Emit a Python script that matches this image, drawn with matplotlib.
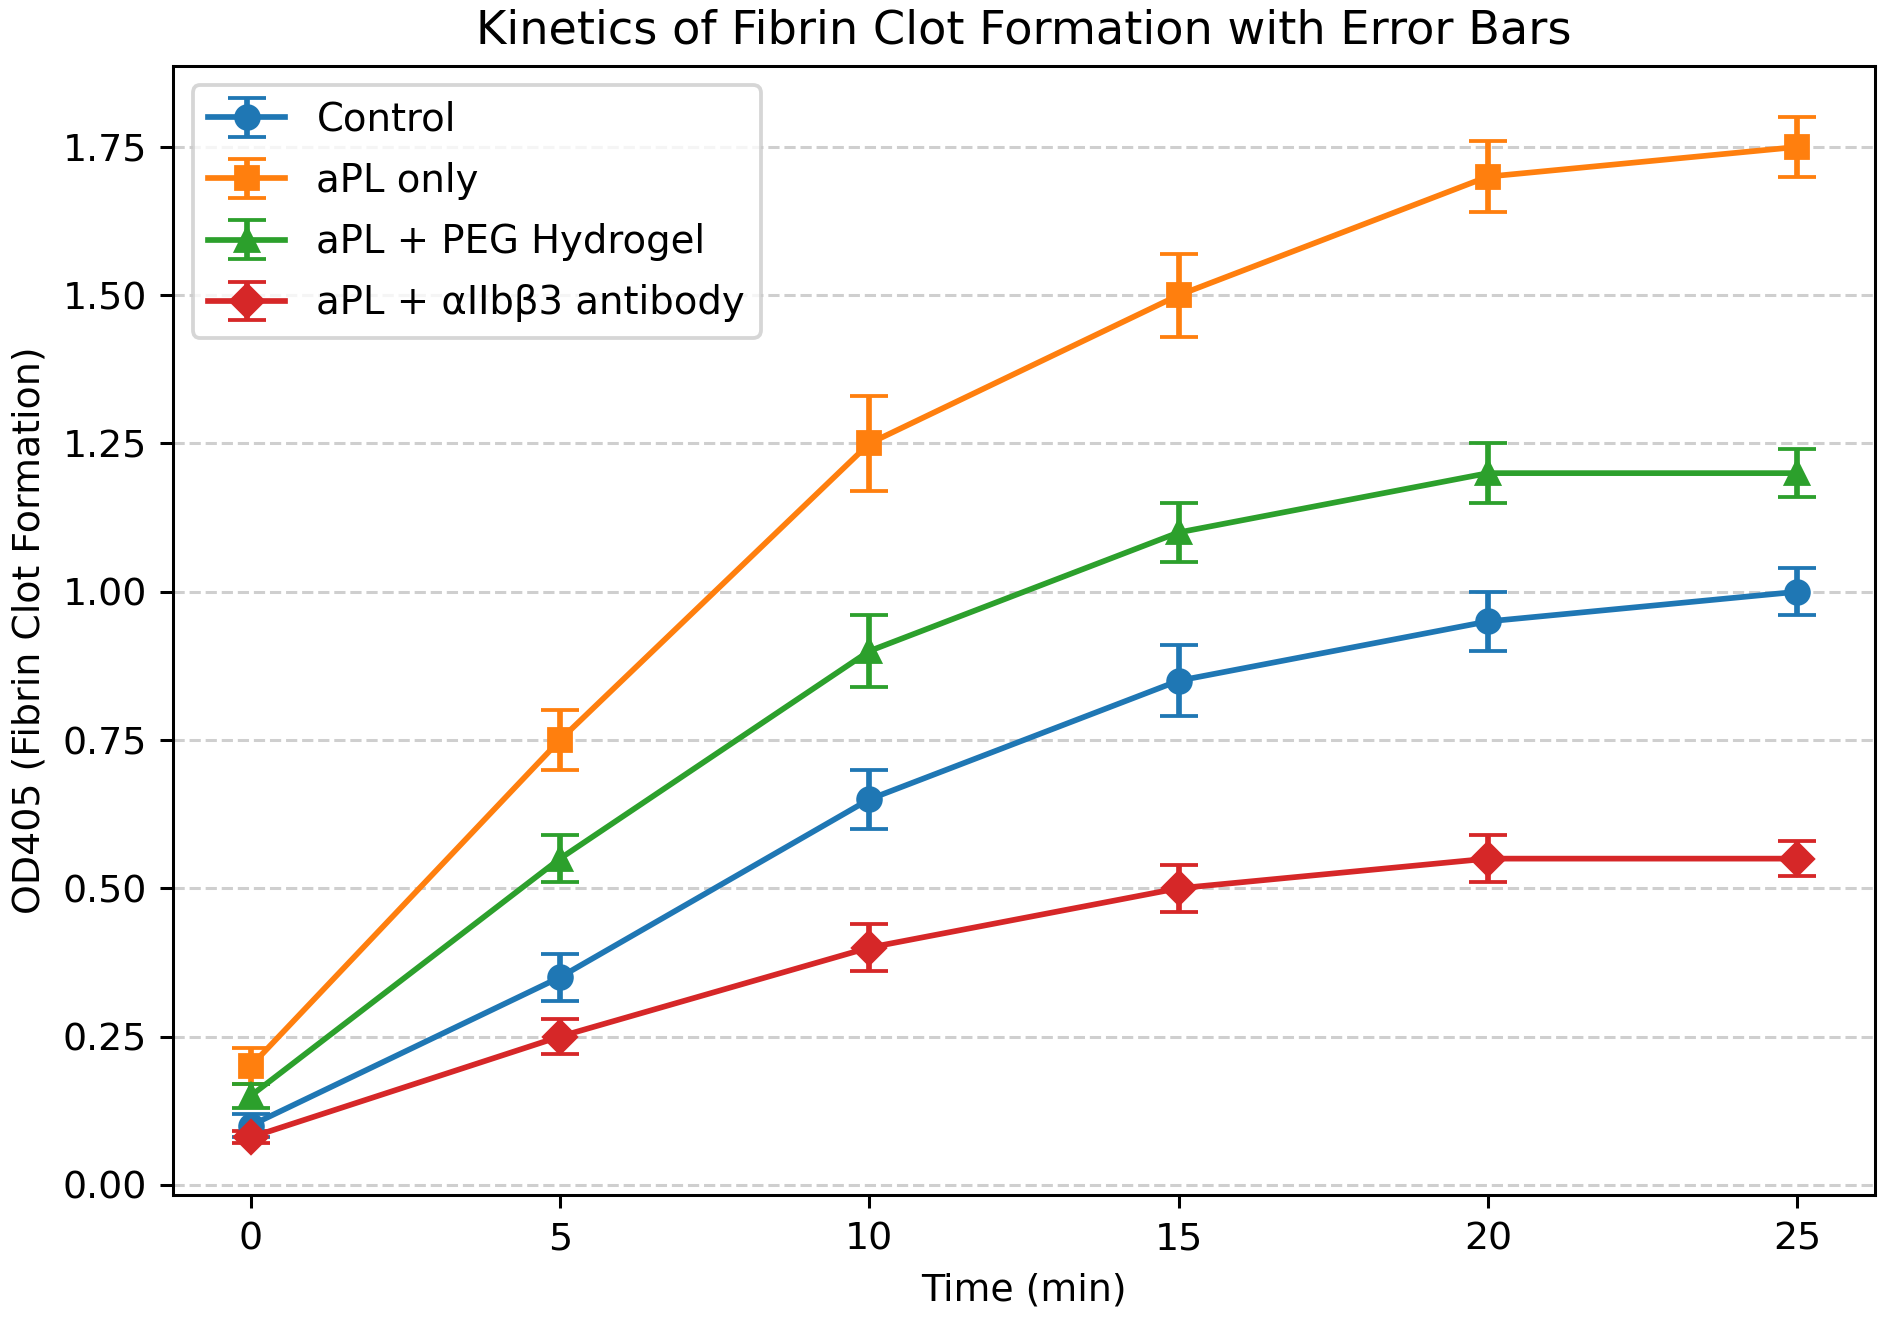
import matplotlib
matplotlib.use("Agg")
import matplotlib.pyplot as plt

# time points (min)
time = [0, 5, 10, 15, 20, 25]

# OD405 means and errors per condition
control = [0.10, 0.35, 0.65, 0.85, 0.95, 1.00]
control_err = [0.02, 0.04, 0.05, 0.06, 0.05, 0.04]

apl_only = [0.20, 0.75, 1.25, 1.50, 1.70, 1.75]
apl_only_err = [0.03, 0.05, 0.08, 0.07, 0.06, 0.05]

apl_peg = [0.15, 0.55, 0.90, 1.10, 1.20, 1.20]
apl_peg_err = [0.02, 0.04, 0.06, 0.05, 0.05, 0.04]

apl_ab = [0.08, 0.25, 0.40, 0.50, 0.55, 0.55]
apl_ab_err = [0.01, 0.03, 0.04, 0.04, 0.04, 0.03]

labels = ["Control", "aPL only", "aPL + PEG Hydrogel", "aPL + \u03b1IIb\u03b23 antibody"]

# slightly lower dpi than 300 so text comes out a bit smaller, like the reference
DPI = 273
fig, ax = plt.subplots(figsize=(1884 / DPI, 1320 / DPI), dpi=DPI)
fig.subplots_adjust(left=0.092, right=0.995, top=0.95, bottom=0.095)

series = [(control, control_err, "o"), (apl_only, apl_only_err, "s"),
          (apl_peg, apl_peg_err, "^"), (apl_ab, apl_ab_err, "D")]
for (vals, errs, mk), lab in zip(series, labels):
    ax.errorbar(time, vals, yerr=errs, marker=mk, capsize=5, label=lab)

ax.set_title("Kinetics of Fibrin Clot Formation with Error Bars", fontsize=12.2)
ax.set_xlabel("Time (min)")
ax.set_ylabel("OD405 (Fibrin Clot Formation)")
ax.grid(axis="y", linestyle="--", alpha=0.6)
ax.legend(loc="upper left", fontsize=10.2, labelspacing=0.6)

fig.savefig("out.png", dpi=DPI)
